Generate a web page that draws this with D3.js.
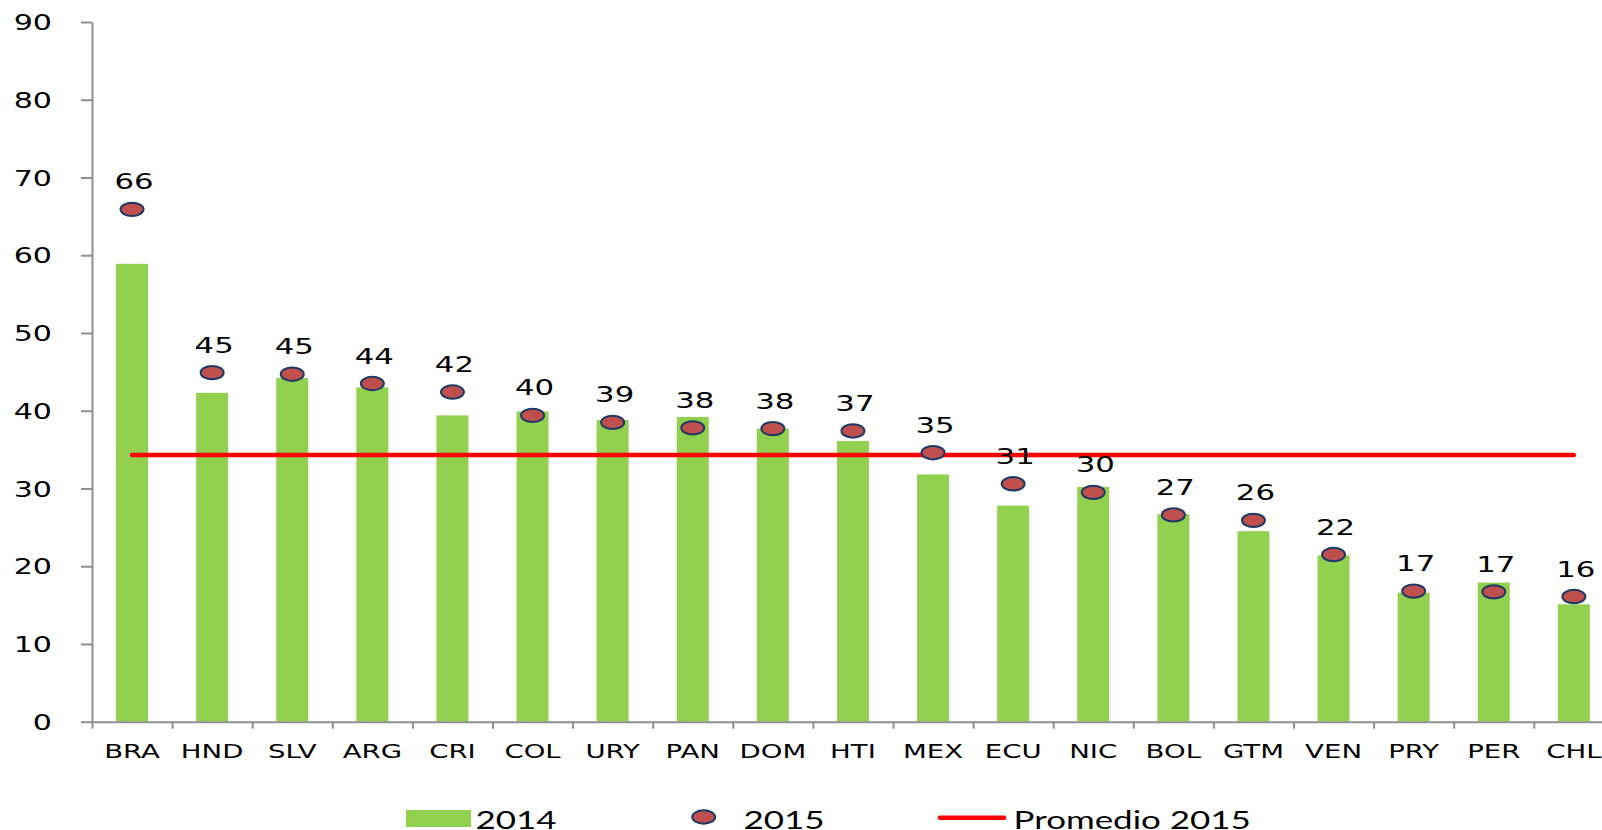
<!DOCTYPE html>
<html>
<head>
<meta charset="utf-8">
<script src="https://cdn.jsdelivr.net/npm/d3@7"></script>
<style>
  body { margin: 0; background: #fff; }
  svg { display: block; }
</style>
</head>
<body>
<script>
// values
var countries = ["BRA","HND","SLV","ARG","CRI","COL","URY","PAN","DOM","HTI","MEX","ECU","NIC","BOL","GTM","VEN","PRY","PER","CHL"];
var values2014 = [58.9, 42.3, 44.2, 43.0, 39.4, 39.9, 38.8, 39.2, 37.7, 36.1, 31.8, 27.8, 30.2, 26.7, 24.5, 21.4, 16.6, 17.9, 15.1];
var values2015 = [65.9, 44.9, 44.7, 43.5, 42.4, 39.4, 38.5, 37.8, 37.7, 37.4, 34.6, 30.6, 29.5, 26.6, 25.9, 21.5, 16.8, 16.7, 16.1];
var labels2015 = ["66", "45", "45", "44", "42", "40", "39", "38", "38", "37", "35", "31", "30", "27", "26", "22", "17", "17", "16"];
var promedio2015 = 34.3;
var yTicks = [0, 10, 20, 30, 40, 50, 60, 70, 80, 90];
var legendLabels = ["2014", "2015", "Promedio 2015"];

var width = 1602,
    height = 830;

var left = 92,
    bandW = 80.1,
    y0 = 721.7,
    yTop = 22;

var stretch = 1.4;   // the reference text is drawn wide
var axisColor = "#8f8f8f";

var svg = d3.select("body").append("svg")
    .attr("width", width)
    .attr("height", height);

var x = d3.scaleBand()
    .domain(countries)
    .range([left, left + countries.length * bandW]);

var y = d3.scaleLinear()
    .domain([0, 90])
    .range([y0, yTop]);

// bars 2014
var barW = 32;
svg.selectAll("rect.bar")
    .data(countries)
    .enter().append("rect")
    .attr("class", "bar")
    .attr("x", function(d) { return x(d) + x.bandwidth() / 2 - barW / 2; })
    .attr("y", function(d, i) { return y(values2014[i]); })
    .attr("width", barW)
    .attr("height", function(d, i) { return y0 - y(values2014[i]); })
    .style("fill", "#92D050");

// y axis
var yAxis = svg.append("g")
    .attr("transform", "translate(" + left + ",0)")
    .call(d3.axisLeft(y).tickValues(yTicks).tickSize(11).tickSizeOuter(0));
yAxis.select(".domain").attr("stroke", axisColor).attr("stroke-width", 2);
yAxis.selectAll(".tick line").attr("stroke", axisColor).attr("stroke-width", 2);
yAxis.selectAll(".tick text")
    .attr("x", -40 / stretch)
    .attr("dy", "0.36em")
    .attr("transform", "scale(" + stretch + ",1)")
    .style("font-family", "DejaVu Sans")
    .style("font-size", "21.5px")
    .style("fill", "#000");

// x axis: boundary ticks
var xEdges = d3.scaleLinear()
    .domain([0, countries.length])
    .range([left, left + countries.length * bandW]);
var xTickAxis = svg.append("g")
    .attr("transform", "translate(0," + y0 + ")")
    .call(d3.axisBottom(xEdges).tickValues(d3.range(0, countries.length + 1)).tickFormat("").tickSize(7).tickSizeOuter(0));
xTickAxis.select(".domain").attr("stroke", axisColor).attr("stroke-width", 2);
xTickAxis.selectAll(".tick line").attr("stroke", axisColor).attr("stroke-width", 2);

// x axis: category labels
var xAxis = svg.append("g")
    .attr("transform", "translate(0," + y0 + ")")
    .call(d3.axisBottom(x).tickSize(0));
xAxis.select(".domain").remove();
xAxis.selectAll(".tick text")
    .attr("y", 36.5)
    .attr("dy", 0)
    .attr("transform", "scale(" + stretch + ",1)")
    .style("font-family", "DejaVu Sans")
    .style("font-size", "19.7px")
    .style("fill", "#000");

// average line 2015
var line = d3.line()
    .x(function(d) { return x(d) + x.bandwidth() / 2; })
    .y(function() { return y(promedio2015); });
svg.append("path")
    .datum(countries)
    .attr("d", line)
    .style("fill", "none")
    .style("stroke", "#FF0000")
    .style("stroke-width", 4.5)
    .style("stroke-linecap", "round");

// dots 2015
svg.selectAll("ellipse.dot")
    .data(countries)
    .enter().append("ellipse")
    .attr("class", "dot")
    .attr("cx", function(d) { return x(d) + x.bandwidth() / 2; })
    .attr("cy", function(d, i) { return y(values2015[i]); })
    .attr("rx", 11.5)
    .attr("ry", 6.7)
    .style("fill", "#C0504D")
    .style("stroke", "#1F3864")
    .style("stroke-width", 2);

// value labels
svg.selectAll("text.lbl")
    .data(countries)
    .enter().append("text")
    .attr("class", "lbl")
    .attr("transform", function(d, i) {
        return "translate(" + (x(d) + x.bandwidth() / 2 + 2) + "," + (y(values2015[i]) - 20) + ") scale(" + stretch + ",1)";
    })
    .attr("text-anchor", "middle")
    .style("font-family", "DejaVu Sans")
    .style("font-size", "22px")
    .style("fill", "#000")
    .text(function(d, i) { return labels2015[i]; });

// legend
var legend = svg.append("g");
legend.append("rect")
    .attr("x", 406).attr("y", 810)
    .attr("width", 65).attr("height", 17)
    .style("fill", "#92D050");
legend.append("ellipse")
    .attr("cx", 703.7).attr("cy", 817)
    .attr("rx", 11.5).attr("ry", 6.7)
    .style("fill", "#C0504D")
    .style("stroke", "#1F3864")
    .style("stroke-width", 2);
legend.append("line")
    .attr("x1", 940).attr("x2", 1004)
    .attr("y1", 817.7).attr("y2", 817.7)
    .style("stroke", "#FF0000")
    .style("stroke-width", 4.5)
    .style("stroke-linecap", "round");

var legendX = [475.5, 743.5, 1013.5];
legend.selectAll("text")
    .data(legendLabels)
    .enter().append("text")
    .attr("transform", function(d, i) { return "translate(" + legendX[i] + ",829) scale(1.37,1)"; })
    .style("font-family", "Lato")
    .style("font-size", "25.5px")
    .style("fill", "#000")
    .text(function(d) { return d; });
</script>
</body>
</html>
